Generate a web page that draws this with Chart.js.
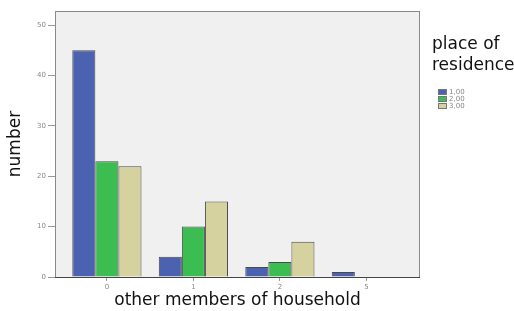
<!DOCTYPE html>
<html>
<head>
<meta charset="utf-8">
<script src="https://cdn.jsdelivr.net/npm/chart.js@4"></script>
<style>
  html, body { margin: 0; padding: 0; background: #fff; }
  #wrap { width: 514px; height: 311px; }
</style>
</head>
<body>
<div id="wrap"><canvas id="grafico" width="514" height="311"></canvas></div>
<script>
// ===== DADOS =====
const categorias = ['0', '1', '2', '5'];
const residencia = ['1,00', '2,00', '3,00'];
const valores1 = [45, 4, 2, 1];
const valores2 = [23, 10, 3, 0];
const valores3 = [22, 15, 7, 0];
const ticksY = [0, 10, 20, 30, 40, 50];

const cores = ['#4a62b0', '#3cbd52', '#d6d2a0'];
const serie = [valores1, valores2, valores3];

// ===== FUNDO + BORDA + LEGENDA =====
const fundo = {
  id: 'fundo',
  beforeDraw(chart) {
    const { ctx, chartArea: a } = chart;
    ctx.save();
    ctx.fillStyle = '#f0f0f0';
    ctx.fillRect(a.left, a.top, a.right - a.left, a.bottom - a.top);
    ctx.restore();
  },
  afterDraw(chart) {
    const { ctx, chartArea: a } = chart;
    ctx.save();
    ctx.strokeStyle = '#8a8a8a';
    ctx.lineWidth = 1;
    ctx.strokeRect(a.left + 0.5, a.top + 0.5, a.right - a.left - 1, a.bottom - a.top);
    ctx.strokeStyle = '#444';
    ctx.beginPath();
    ctx.moveTo(a.left, a.bottom + 0.5);
    ctx.lineTo(a.right, a.bottom + 0.5);
    ctx.stroke();

    // legenda
    ctx.fillStyle = '#111';
    ctx.font = '17px "DejaVu Sans"';
    ctx.textBaseline = 'alphabetic';
    ctx.fillText('place of', 432, 49);
    ctx.fillText('residence', 432, 70);
    ctx.font = '7px "DejaVu Sans"';
    ctx.textBaseline = 'middle';
    chart.data.datasets.forEach((ds, i) => {
      const y = 92 + i * 7;
      ctx.fillStyle = ds.backgroundColor;
      ctx.fillRect(438, y - 2.5, 8, 5);
      ctx.strokeStyle = '#777';
      ctx.strokeRect(438.5, y - 2.5, 8, 5);
      ctx.fillStyle = '#888';
      ctx.fillText(ds.label, 449, y + 0.5);
    });
    ctx.restore();
  }
};

// ===== GRÁFICO =====
const ctx = document.getElementById('grafico').getContext('2d');

const grafico = new Chart(ctx, {
  type: 'bar',
  data: {
    labels: categorias,
    datasets: residencia.map((r, i) => ({
      label: r,
      data: serie[i],
      backgroundColor: cores[i],
      borderColor: '#4a4a4a',
      borderWidth: 1,
      categoryPercentage: 0.8,
      barPercentage: 1
    }))
  },
  options: {
    responsive: false,
    animation: false,
    layout: { padding: { top: 11, right: 94, left: 0, bottom: 0 } },
    plugins: { legend: { display: false }, tooltip: { enabled: false } },
    scales: {
      x: {
        grid: { drawOnChartArea: false, offset: false, tickLength: 4, color: '#999' },
        border: { display: false },
        ticks: { color: '#888', font: { size: 7, family: 'DejaVu Sans' }, padding: 2 },
        title: { display: true, text: 'other members of household', color: '#111',
                 font: { size: 17, family: 'DejaVu Sans' }, padding: { top: 0, bottom: 0 } },
        // margens laterais um pouco maiores que o padrão da escala de categorias
        afterBuildTicks(s) { s._startValue = -0.6; s._valueRange = 4.22; },
        afterFit(s) { s.height = 34; }
      },
      y: {
        min: 0,
        max: 52.8,
        afterBuildTicks(s) { s.ticks = ticksY.map(v => ({ value: v })); },
        grid: { drawOnChartArea: false, tickLength: 7, color: '#999' },
        border: { display: false },
        ticks: { color: '#888', font: { size: 7, family: 'DejaVu Sans' }, padding: 2 },
        title: { display: true, text: 'number', color: '#111',
                 font: { size: 17, family: 'DejaVu Sans' }, padding: { top: 5, bottom: 0 } },
        afterFit(s) { s.width = 55; }
      }
    }
  },
  plugins: [fundo]
});
</script>
</body>
</html>
